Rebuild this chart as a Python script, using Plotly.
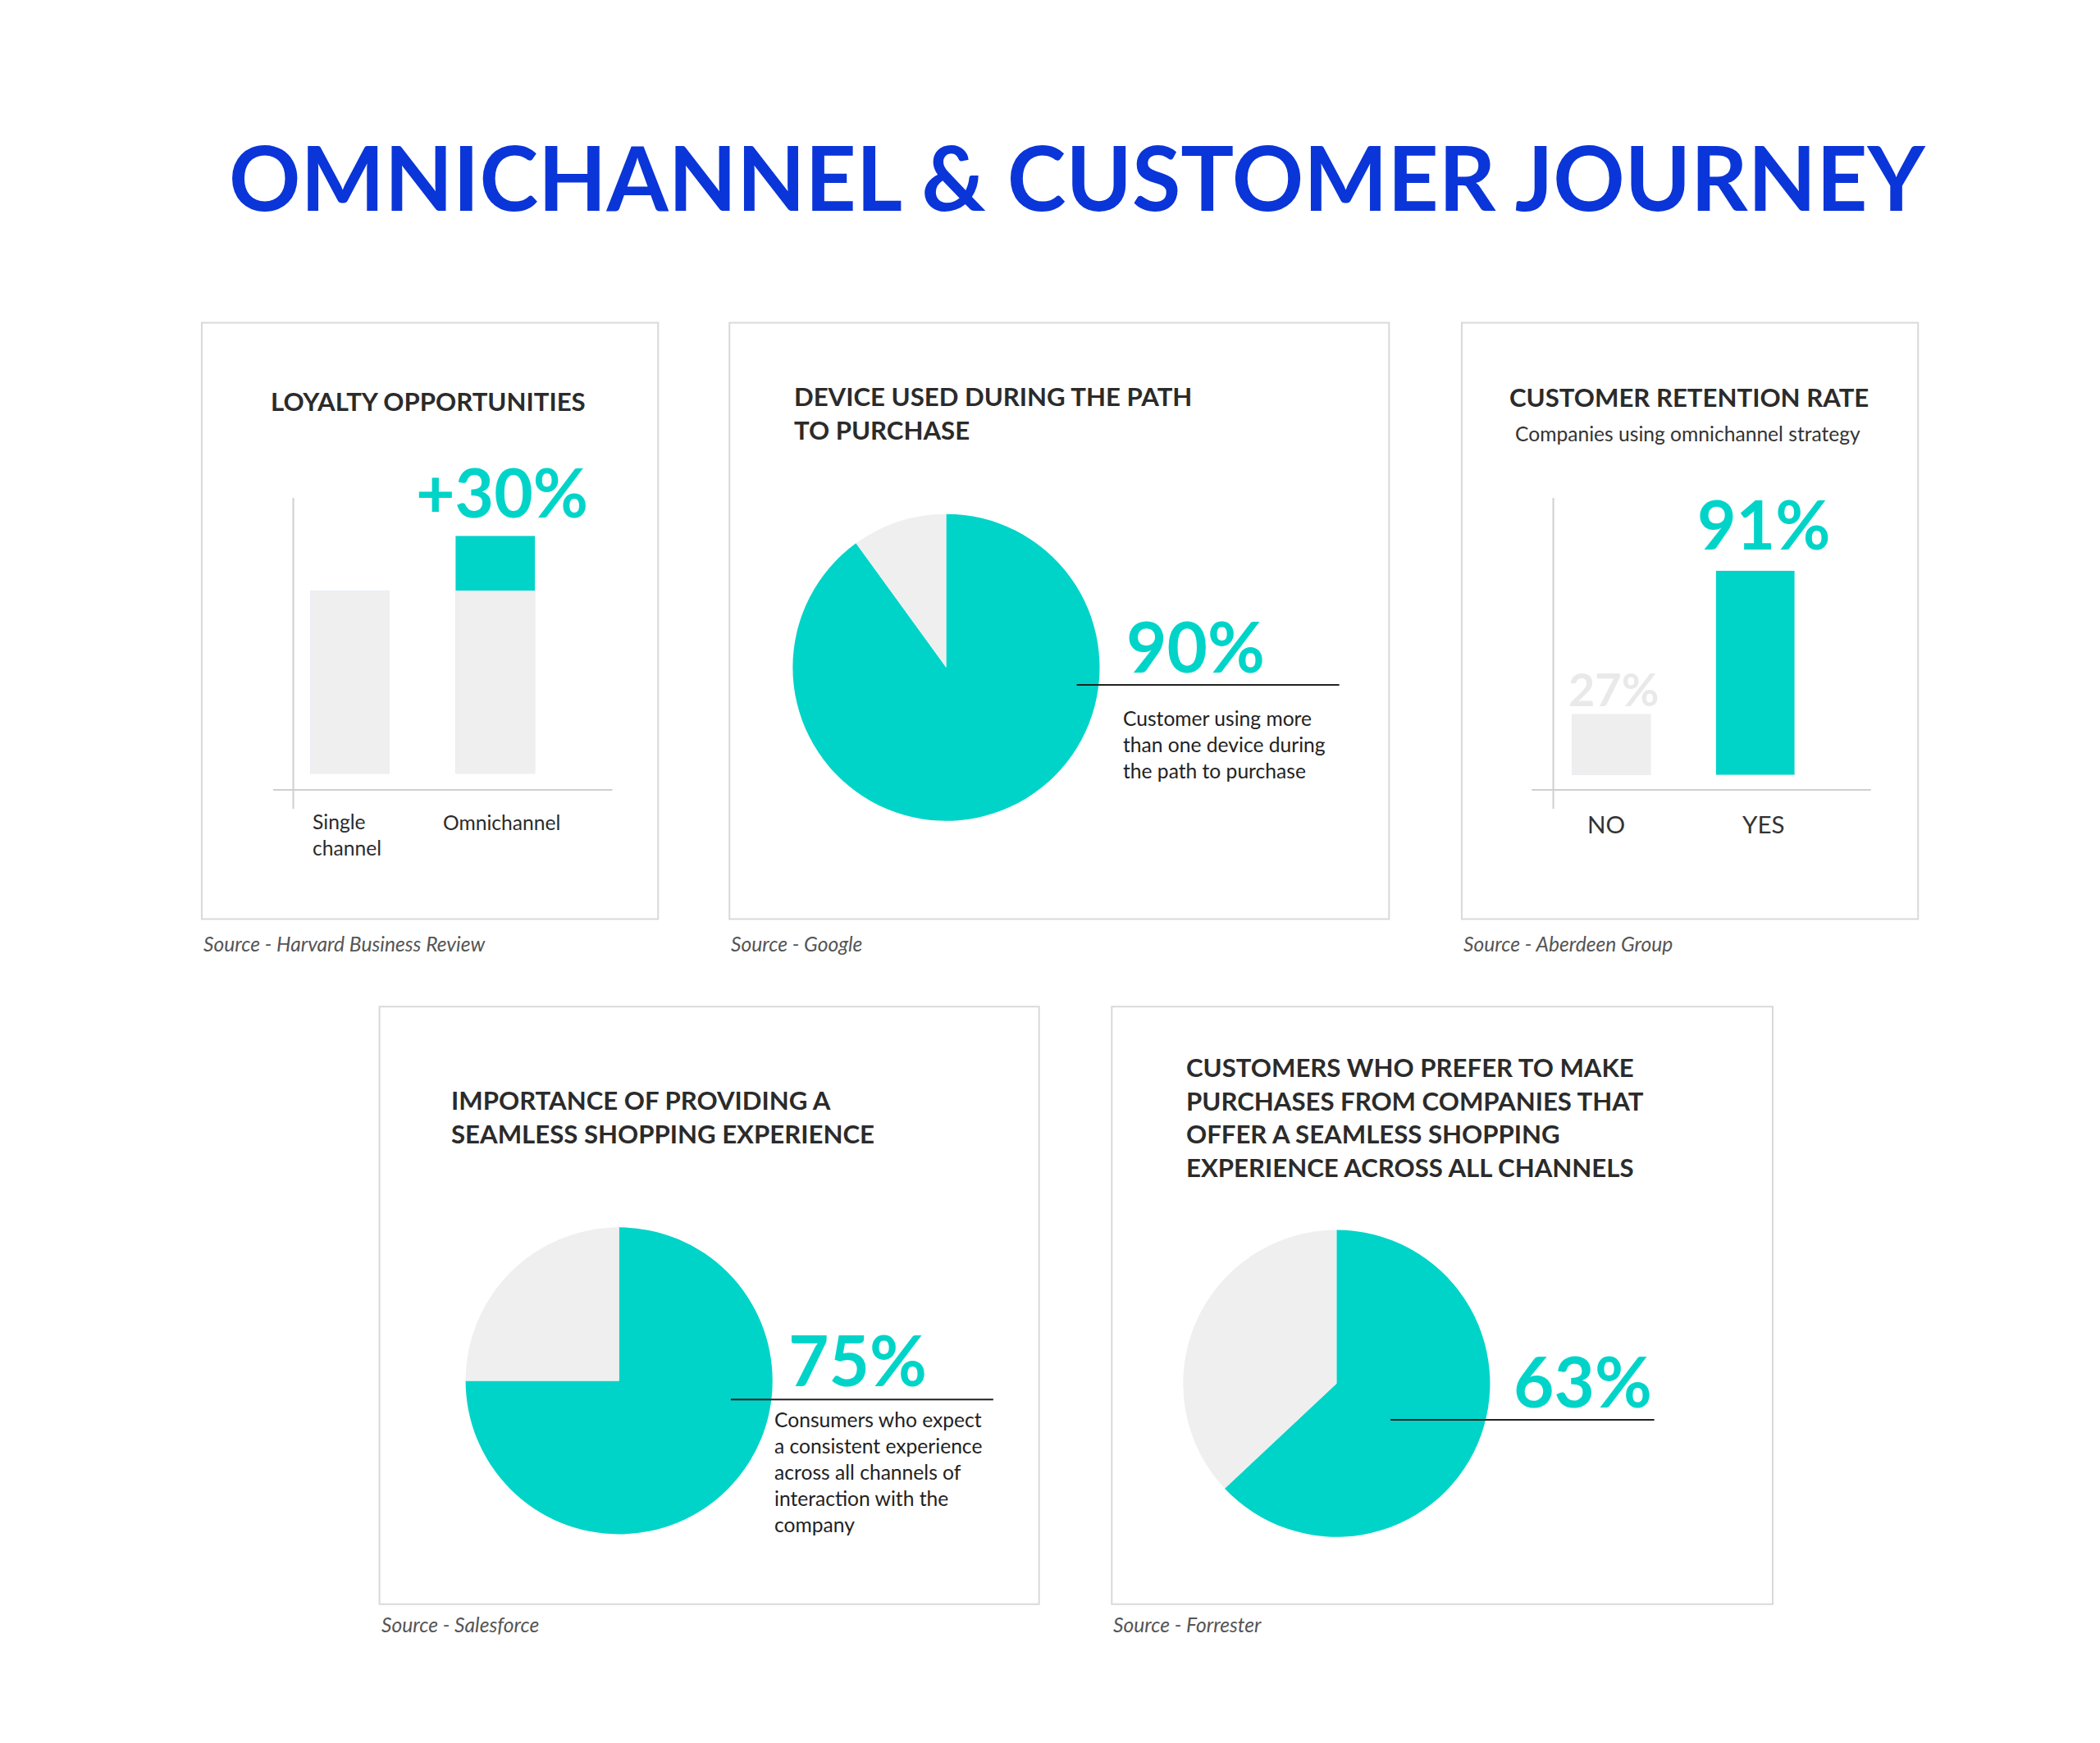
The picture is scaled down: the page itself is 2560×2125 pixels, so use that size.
import plotly.graph_objects as go

W, H = 2560, 2125
BW, BH = 1560, 1295
S = W / BW
TEAL = "#00d4c8"
GREY = "#efefef"
DARK = "#2b2b2b"
FONT = "Lato"

def px(x): return x / BW
def py(y): return 1 - y / BH
def fs(v): return v * S

# data
loyalty_cats = ["Single channel", "Omnichannel"]
loyalty_base = [100, 100]
loyalty_extra = [0, 30]
retention_cats = ["NO", "YES"]
retention_vals = [27, 91]
device_vals = [90, 10]
seamless_vals = [75, 25]
prefer_vals = [63, 37]

fig = go.Figure()

fig.add_trace(go.Bar(x=[0, 1], y=loyalty_base, marker_color=GREY, width=0.546,
                     xaxis="x", yaxis="y", hoverinfo="skip"))
fig.add_trace(go.Bar(x=[0, 1], y=loyalty_extra, marker_color=TEAL, width=0.546,
                     xaxis="x", yaxis="y", hoverinfo="skip"))
fig.add_trace(go.Bar(x=[0, 1], y=retention_vals, marker_color=["#eeeeee", TEAL], width=0.546,
                     xaxis="x2", yaxis="y2", hoverinfo="skip"))

def pie(vals, cx, cy, r=114):
    fig.add_trace(go.Pie(values=vals, sort=False, direction="clockwise", rotation=0,
                         marker=dict(colors=[TEAL, GREY]), textinfo="none", hoverinfo="skip",
                         domain=dict(x=[px(cx - r), px(cx + r)], y=[py(cy + r), py(cy - r)]),
                         showlegend=False))
pie(device_vals, 698, 491)
pie(seamless_vals, 455, 1021)
pie(prefer_vals, 988, 1023)

ax = dict(visible=False, fixedrange=True)
fig.update_layout(
    width=W, height=H, margin=dict(l=0, r=0, t=0, b=0), paper_bgcolor="white",
    plot_bgcolor="rgba(0,0,0,0)", barmode="stack", showlegend=False,
    xaxis=dict(ax, domain=[px(213), px(450)], range=[-0.389, 1.806]),
    yaxis=dict(ax, domain=[py(582), py(365)], range=[-8.8, 150.8]),
    xaxis2=dict(ax, domain=[px(1149), px(1385)], range=[-0.402, 1.804]),
    yaxis2=dict(ax, domain=[py(582), py(365)], range=[-6.6, 123.4]),
)

shapes = []
for x0, y0, x1, y1 in [(145, 235, 484, 678), (537, 235, 1027, 678), (1081, 235, 1420, 678),
                       (277, 743, 767, 1187), (821, 743, 1312, 1187)]:
    shapes.append(dict(type="rect", xref="paper", yref="paper", x0=px(x0), x1=px(x1),
                       y0=py(y1), y1=py(y0), line=dict(color="#d9d9d9", width=2)))
def line(x0, y0, x1, y1, c="#cfcfcf", w=2):
    shapes.append(dict(type="line", xref="paper", yref="paper", x0=px(x0), x1=px(x1),
                       y0=py(y0), y1=py(y1), line=dict(color=c, width=w)))
line(213, 365, 213, 596); line(198, 582, 450, 582)
line(1149, 365, 1149, 596); line(1133, 582, 1385, 582)
line(795, 504, 990, 504, "#222", 2)
line(538, 1035, 733, 1035, "#222", 2)
line(1028, 1050, 1224, 1050, "#222", 2)
fig.update_layout(shapes=shapes)

ann = []
def text(t, x, y, size, color=DARK, bold=False, italic=False, xa="center", ya="middle", align=None):
    if bold: t = "<b>" + t + "</b>"
    if italic: t = "<i>" + t + "</i>"
    ann.append(dict(text=t, x=px(x), y=py(y), xref="paper", yref="paper", showarrow=False,
                    xanchor=xa, yanchor=ya, align=align or ("left" if xa == "left" else "center"),
                    font=dict(family=FONT, size=fs(size), color=color)))

text("OMNICHANNEL &amp; CUSTOMER JOURNEY", 795, 126, 66, "#0a35d8", bold=True)
text("LOYALTY OPPORTUNITIES", 313, 293, 19, bold=True)
text("+%d%%" % loyalty_extra[1], 368, 360, 50, TEAL, bold=True)
text("Single<br>channel", 226, 615, 15, xa="left")
text(loyalty_cats[1], 368, 606, 15)
text("DEVICE USED DURING THE PATH<br>TO PURCHASE", 584, 302, 19, bold=True, xa="left")
text("%d%%" % device_vals[0], 883, 475, 52, TEAL, bold=True)
text("Customer using more<br>than one device during<br>the path to purchase", 828, 548, 15, "#222", xa="left")
text("CUSTOMER RETENTION RATE", 1250, 290, 19, bold=True)
text("Companies using omnichannel strategy", 1249, 317, 15, "#333")
text("%d%%" % retention_vals[0], 1194, 507, 34, "#e9e9e9", bold=True)
text("%d%%" % retention_vals[1], 1305, 384, 50, TEAL, bold=True)
text(retention_cats[0], 1188, 607, 18, "#333")
text(retention_cats[1], 1305, 607, 18, "#333")
text("IMPORTANCE OF PROVIDING A<br>SEAMLESS SHOPPING EXPERIENCE", 329, 825, 19, bold=True, xa="left")
text("%d%%" % seamless_vals[0], 632, 1005, 52, TEAL, bold=True)
text("Consumers who expect<br>a consistent experience<br>across all channels of<br>interaction with the<br>company",
     569, 1089, 15, "#222", xa="left")
text("CUSTOMERS WHO PREFER TO MAKE<br>PURCHASES FROM COMPANIES THAT<br>OFFER A SEAMLESS SHOPPING<br>EXPERIENCE ACROSS ALL CHANNELS",
     875, 825, 19, bold=True, xa="left")
text("%d%%" % prefer_vals[0], 1171, 1021, 52, TEAL, bold=True)
for t, x, y in [("Source - Harvard Business Review", 145, 696), ("Source - Google", 537, 696),
                ("Source - Aberdeen Group", 1081, 696), ("Source - Salesforce", 277, 1202),
                ("Source - Forrester", 821, 1202)]:
    text(t, x, y, 15, "#555", italic=True, xa="left")
fig.update_layout(annotations=ann)

fig.write_html("out.html")
